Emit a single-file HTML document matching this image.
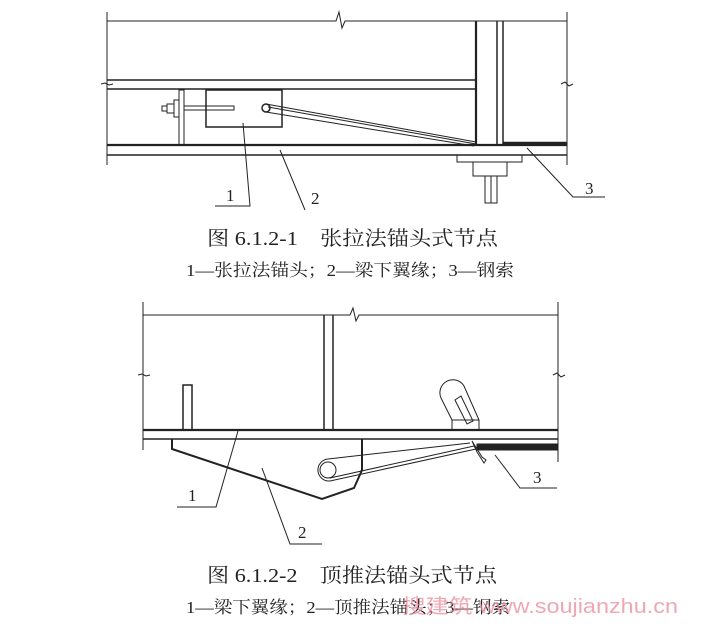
<!DOCTYPE html>
<html><head><meta charset="utf-8"><style>
body{margin:0;background:#fff;}
svg{display:block}
.t{font-family:"Liberation Serif","Noto Serif CJK SC",serif;fill:#222}
</style></head><body>
<svg width="703" height="631" viewBox="0 0 703 631" xmlns="http://www.w3.org/2000/svg">
<rect width="703" height="631" fill="#fff"/>
<g stroke="#222" fill="none" stroke-width="1">
<!-- TOP DIAGRAM -->
<line x1="107" y1="12" x2="107" y2="165"/>
<line x1="567" y1="12" x2="567" y2="165"/>
<polyline points="107,21 336,21 339,12 342,28 345,21 567,21"/>
<polyline points="101,84 105,83 109,85 113,84"/>
<polyline points="561,84 565,82 569,86 573,84"/>
<line x1="107" y1="80" x2="476" y2="80" stroke-width="1.5"/>
<line x1="107" y1="89" x2="476" y2="89" stroke-width="1.5"/>
<line x1="107" y1="145" x2="567" y2="145" stroke-width="2.2"/>
<line x1="107" y1="155" x2="567" y2="155" stroke-width="1.5"/>
<line x1="476" y1="21" x2="476" y2="145" stroke-width="2.2"/>
<line x1="497" y1="21" x2="497" y2="145" stroke-width="1.5"/>
<line x1="503" y1="21" x2="503" y2="145" stroke-width="1.5"/>
<line x1="503" y1="143" x2="567" y2="143" stroke-width="2.5"/>
<rect x="206" y="90" width="76" height="37" stroke-width="1.5"/>
<rect x="179" y="90" width="5" height="55"/>
<rect x="174" y="100" width="5" height="17"/>
<rect x="167" y="104" width="7" height="9"/>
<rect x="162" y="106" width="5" height="5"/>
<rect x="184" y="106" width="50" height="4"/>
<circle cx="266" cy="108" r="4" stroke-width="1.5"/>
<line x1="266" y1="104" x2="476" y2="142"/>
<line x1="268" y1="107" x2="476" y2="144"/>
<line x1="266" y1="112" x2="474" y2="146"/>
<rect x="457" y="155" width="65" height="7"/>
<rect x="473" y="162" width="34" height="14"/>
<rect x="485" y="176" width="12" height="27"/>
<line x1="491" y1="176" x2="491" y2="203"/>
<polyline points="243,123 250,206 215,206"/>
<polyline points="280,150 305,210"/>
<polyline points="527,148 573,197 605,197"/>
</g>
<text class="t" x="226" y="201" font-size="17">1</text>
<text class="t" x="311" y="204" font-size="17">2</text>
<text class="t" x="585" y="194" font-size="17">3</text>
<text class="t" x="207" y="245" font-size="20" textLength="291" lengthAdjust="spacingAndGlyphs">图 6.1.2-1　张拉法锚头式节点</text>
<text class="t" x="186" y="276" font-size="17" textLength="328" lengthAdjust="spacingAndGlyphs">1—张拉法锚头；2—梁下翼缘；3—钢索</text>

<g stroke="#222" fill="none" stroke-width="1">
<!-- BOTTOM DIAGRAM -->
<line x1="143" y1="302" x2="143" y2="450"/>
<line x1="558" y1="302" x2="558" y2="462"/>
<polyline points="143,315 350,315 353,308 356,321 359,315 558,315"/>
<polyline points="138,375 142,374 146,376 150,375"/>
<polyline points="553,375 557,373 561,377 565,375"/>
<line x1="143" y1="430" x2="558" y2="430" stroke-width="2.2"/>
<line x1="143" y1="439" x2="558" y2="439" stroke-width="1.5"/>
<line x1="324" y1="315" x2="324" y2="430" stroke-width="1.5"/>
<line x1="333" y1="315" x2="333" y2="430" stroke-width="1.5"/>
<rect x="183" y="385" width="9" height="45" stroke-width="1.5"/>
<polyline points="172,439 172,449 322,499 354,488 362,470 362,439" stroke-width="2"/>
<circle cx="328" cy="470" r="8"/>
<path d="M328,459 A11,11 0 1 0 330,481 L476,449 M328,459 L470,443"/>
<line x1="330" y1="478" x2="474" y2="446"/>
<rect x="477" y="444" width="81" height="6" fill="#222"/>
<path d="M472,441 L482,457 L486,460 L484,463 L477,452 Z"/>
<path d="M452,430 L452,420 L441,398 A13,13 0 0 1 464,386 L479,420 L479,430" />
<path d="M455,400 L461,396 L473,421 L467,424 Z"/>
<line x1="452" y1="420" x2="479" y2="420"/>
<polyline points="238,431 216,507 177,507"/>
<polyline points="262,468 290,544 322,544"/>
<polyline points="495,455 520,488 557,488"/>
</g>
<text class="t" x="188" y="501" font-size="17">1</text>
<text class="t" x="298" y="538" font-size="17">2</text>
<text class="t" x="533" y="483" font-size="17">3</text>
<text class="t" x="207" y="582" font-size="20" textLength="290" lengthAdjust="spacingAndGlyphs">图 6.1.2-2　顶推法锚头式节点</text>
<text class="t" x="186" y="613" font-size="17" textLength="324" lengthAdjust="spacingAndGlyphs">1—梁下翼缘；2—顶推法锚头；3—钢索</text>
<text x="402" y="613" font-size="20" fill="#e88a9a" fill-opacity="0.75" font-family="Liberation Sans,'Noto Sans CJK SC',sans-serif" textLength="276" lengthAdjust="spacingAndGlyphs">搜建筑 www.soujianzhu.cn</text>
</svg>
</body></html>
